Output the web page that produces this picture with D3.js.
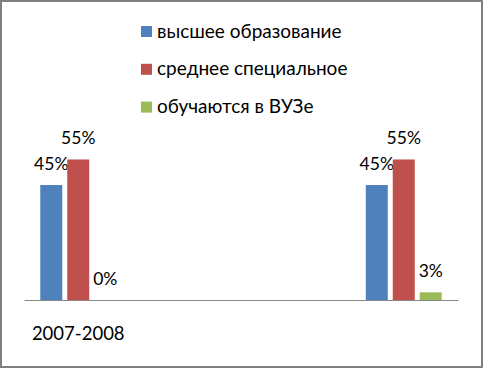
<!doctype html>
<html>
<head>
    <meta charset="utf-8">
    <style>
        body { margin: 0; background: #fff; }
        svg text { font-family: Lato, "Open Sans", "Noto Sans", sans-serif; fill: #000; }
        .axis path, .axis line { stroke: #868686; }
    </style>
</head>
<body>
    <svg id="chart"></svg>
    <script src="https://cdnjs.cloudflare.com/ajax/libs/d3/7.8.5/d3.min.js"></script>
    <script>
        var categories = ['2007-2008', '', ' ', '  '];
        var seriesNames = ['высшее образование', 'среднее специальное', 'обучаются в ВУЗе'];
        var seriesColors = ['#4F81BD', '#C0504D', '#9BBB59'];
        var higher = [45, null, null, 45];
        var special = [55, null, null, 55];
        var students = [0, null, null, 3];
        var series = [higher, special, students];

        var width = 483, height = 368;
        var svg = d3.select('#chart').attr('width', width).attr('height', height);

        // frame
        svg.append('rect')
            .attr('x', 1).attr('y', 1)
            .attr('width', width - 2).attr('height', height - 2)
            .attr('fill', '#fff')
            .attr('stroke', '#808080')
            .attr('stroke-width', 2);

        var x0 = d3.scaleBand().domain(categories).range([24, 458]);
        var groupW = x0.bandwidth() * 0.7;
        var x1 = d3.scaleBand().domain(d3.range(series.length)).range([0, groupW]).paddingInner(0.185);
        var y = d3.scaleLinear().domain([0, 60]).range([300, 146.7]);

        // bars
        series.forEach(function(values, s) {
            var g = svg.append('g');
            var pts = values.map(function(v, i) { return {v: v, cat: categories[i]}; })
                .filter(function(d) { return d.v !== null; });
            g.selectAll('rect').data(pts).enter().append('rect')
                .attr('x', function(d) { return x0(d.cat) + x0.bandwidth() * 0.15 + x1(s); })
                .attr('y', function(d) { return y(d.v); })
                .attr('width', x1.bandwidth())
                .attr('height', function(d) { return y(0) - y(d.v); })
                .attr('fill', seriesColors[s]);
            g.selectAll('text').data(pts).enter().append('text')
                .attr('x', function(d) { return x0(d.cat) + x0.bandwidth() * 0.15 + x1(s) + x1.bandwidth() / 2; })
                .attr('y', function(d) { return y(d.v) - 15; })
                .attr('text-anchor', 'middle')
                .style('font-size', '17.5px')
                .text(function(d) { return d.v + '%'; });
        });

        // category axis
        var axis = svg.append('g').attr('class', 'axis')
            .attr('transform', 'translate(0,' + y(0) + ')')
            .call(d3.axisBottom(x0).tickSize(0).tickPadding(0).tickSizeOuter(0));
        axis.select('.domain').attr('stroke', '#868686');
        axis.selectAll('text')
            .attr('fill', '#000')
            .attr('dy', null)
            .attr('y', 40)
            .style('font-size', '18.5px')
            .style('font-family', 'Lato, "Open Sans", sans-serif');

        // legend
        var legend = svg.append('g').selectAll('g').data(seriesNames).enter().append('g')
            .attr('transform', function(d, i) { return 'translate(141,' + (26 + i * 37.8) + ')'; });
        legend.append('rect')
            .attr('width', 11).attr('height', 11)
            .attr('fill', function(d, i) { return seriesColors[i]; });
        legend.append('text')
            .attr('x', 16).attr('y', 11.5)
            .style('font-size', '19px')
            .text(function(d) { return d; });
    </script>
</body>
</html>
